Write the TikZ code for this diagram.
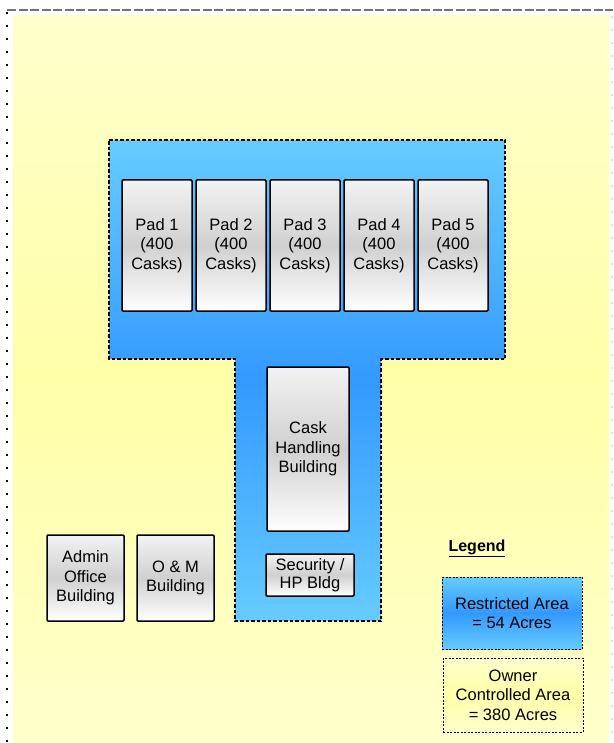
\documentclass[tikz,border=0pt]{standalone}
\usepackage{fontspec}
\setsansfont{Liberation Sans}
\usepackage{xcolor}
\definecolor{ocatop}{RGB}{255,255,204}
\definecolor{ocamid}{RGB}{255,255,168}
\definecolor{ralight}{RGB}{102,204,255}
\definecolor{radeep}{RGB}{51,153,255}
\definecolor{bldgrey}{RGB}{208,208,208}
\usepackage{tikz}
\usetikzlibrary{positioning}

\tikzset{
  bldg/.style={draw=black, line width=1.5pt, rounded corners=1pt,
    top color=black!5, bottom color=white, middle color=bldgrey,
    align=center, inner sep=2pt,
    font=\sffamily\fontsize{16.5}{19.5}\selectfont},
  legbox/.style={draw=black, line width=1pt, dash pattern=on 2pt off 1.5pt,
    minimum width=140pt, align=center,
    font=\sffamily\fontsize{16.5}{19.5}\selectfont}
}

\begin{document}
\begin{tikzpicture}[x=1pt, y=-1pt]
  \useasboundingbox (0,0) rectangle (613,743);
  % owner controlled area
  \shade[top color=ocatop, bottom color=ocatop, middle color=ocamid]
    (13,16) rectangle (609,743);
  \draw[black!55, line width=1.6pt, dash pattern=on 9pt off 2.5pt] (7,10) -- (613,10);
  \draw[black, line width=2.4pt, dash pattern=on 2.4pt off 10.6pt] (7,12) -- (7,743);
  \draw[black!12, line width=2pt, dash pattern=on 2pt off 11pt] (612,16) -- (612,743);
  % restricted area
  \path[draw=black, line width=2pt, dash pattern=on 3.5pt off 2pt,
    top color=ralight, bottom color=ralight, middle color=radeep]
    (109,140) -- (505,140) -- (505,359) -- (381,359) -- (381,621)
    -- (235,621) -- (235,359) -- (109,359) -- cycle;
  % pads
  \foreach \i in {1,...,5}
    \node[bldg, minimum width=70pt, minimum height=131pt] (pad\i)
      at ({157+74*(\i-1)},245.5) {Pad \i\\(400\\Casks)};
  % buildings
  \node[bldg, minimum width=82pt, minimum height=164pt] (cask) at (308,449)
    {Cask\\Handling\\Building};
  \node[bldg, minimum width=88pt, minimum height=42pt, font=\sffamily\fontsize{16.5}{18}\selectfont]
    (security) at (310,575) {Security /\\HP Bldg};
  \node[bldg, minimum width=77pt, minimum height=86pt] (admin) at (85.5,578)
    {Admin\\Office\\Building};
  \node[bldg, minimum width=77pt, minimum height=86pt] (om) at (175.5,578)
    {O \& M\\Building};
  % legend
  \node[font=\sffamily\bfseries\fontsize{16}{19}\selectfont] (legend) at (477,548)
    {\underline{Legend}};
  \node[legbox, minimum height=72pt, top color=ralight, bottom color=ralight,
    middle color=radeep] (legra) at (512,613) {Restricted Area\\= 54 Acres};
  \node[legbox, minimum height=74pt, top color=ocatop, bottom color=ocatop,
    middle color=ocamid] (legoca) at (513,695) {Owner\\Controlled Area\\= 380 Acres};
\end{tikzpicture}
\end{document}
